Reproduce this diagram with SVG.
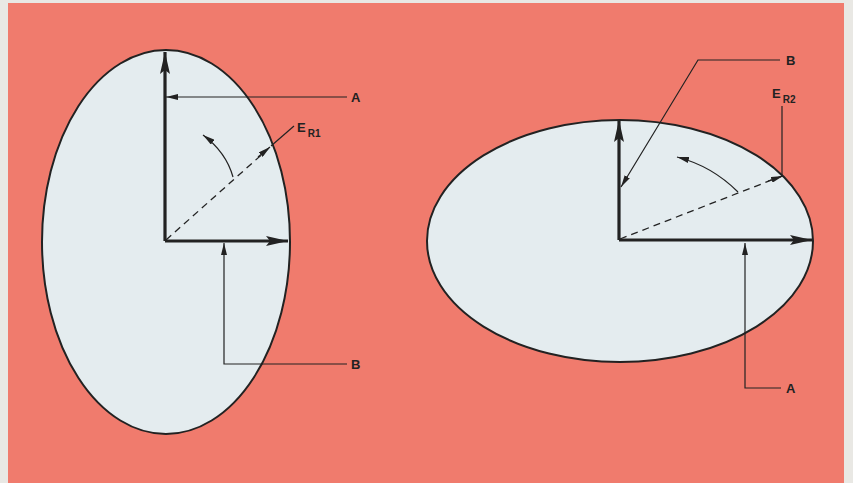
<svg xmlns="http://www.w3.org/2000/svg" width="853" height="483" viewBox="0 0 853 483">
<defs>
<marker id="big" viewBox="0 0 22 10" refX="22" refY="5" markerWidth="22" markerHeight="10" markerUnits="userSpaceOnUse" orient="auto"><path d="M0,0 L22,5 L0,10 L4,5 Z" fill="#222"/></marker>
<marker id="small" viewBox="0 0 12 6" refX="12" refY="3" markerWidth="12" markerHeight="6" markerUnits="userSpaceOnUse" orient="auto"><path d="M0,0 L12,3 L0,6 Z" fill="#222"/></marker>
</defs>
<style>
.ell{fill:#e4ecef;stroke:#222;stroke-width:2}
.axis{fill:none;stroke:#222;stroke-width:3.2;marker-end:url(#big)}
.lead{fill:none;stroke:#222;stroke-width:1.2}
.leadA{fill:none;stroke:#222;stroke-width:1.2;marker-end:url(#small)}
.dash{fill:none;stroke:#222;stroke-width:1.3;stroke-dasharray:7 5}
.lbl{font-family:"Liberation Sans",Arial,sans-serif;font-weight:bold;font-size:13px;fill:#222}
.sub{font-size:10px}
</style>
<rect x="0" y="0" width="853" height="483" fill="#e9e8e4"/>
<rect x="8" y="3" width="836" height="480" fill="#f07b6d"/>
<g id="ellipse-left">
<ellipse class="ell" cx="166" cy="242" rx="124" ry="192"/>
</g>
<g id="ellipse-right">
<ellipse class="ell" cx="620" cy="241" rx="193" ry="121"/>
</g>
<g id="connectors">
<path class="axis" d="M165,241 L165,52"/>
<path class="axis" d="M165,241 L288,241"/>
<path class="dash" d="M166,240 L268,149"/>
<path class="leadA" d="M258,157 L270,147"/>
<path class="lead" d="M271,146 L294,126"/>
<path class="leadA" d="M347,97 L166,97"/>
<path class="leadA" d="M347,364 L224,364 L224,243"/>
<path class="leadA" d="M233,177 Q226,152 203,135"/>
<path class="axis" d="M619,240 L619,120"/>
<path class="axis" d="M619,240 L812,240"/>
<path class="dash" d="M620,239 L782,176"/>
<path class="leadA" d="M768,181 L783,176"/>
<path class="lead" d="M782,176 L782,106"/>
<path class="leadA" d="M780,60 L698,60 L621,187"/>
<path class="leadA" d="M781,388 L745,388 L745,243"/>
<path class="leadA" d="M738,192 Q712,166 677,157"/>
</g>
<g id="labels">
<text class="lbl" x="351" y="102">A</text>
<text class="lbl" x="351" y="369">B</text>
<text class="lbl" x="297" y="132">E<tspan class="sub" dx="2" dy="5">R1</tspan></text>
<text class="lbl" x="786" y="65">B</text>
<text class="lbl" x="772" y="98">E<tspan class="sub" dx="2" dy="5">R2</tspan></text>
<text class="lbl" x="786" y="393">A</text>
</g>
</svg>
